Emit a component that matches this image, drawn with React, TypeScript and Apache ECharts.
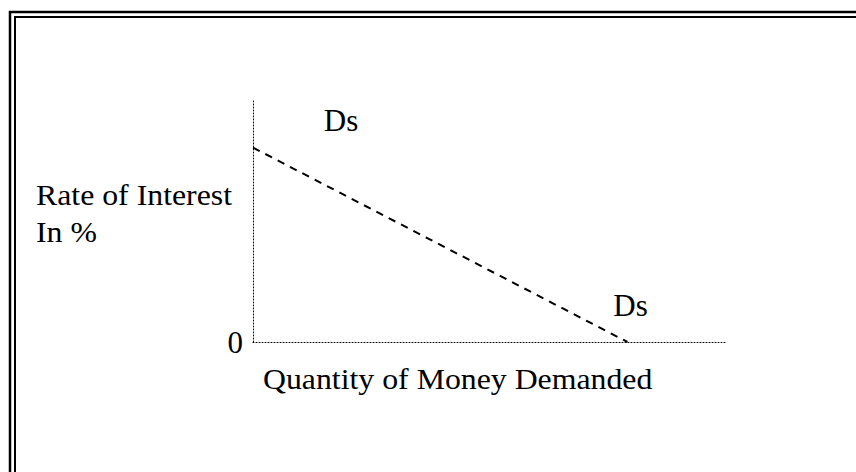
import React, { useEffect, useRef } from "react";
import * as echarts from "echarts";

// Data
const demandQuantity = [0, 79];
const demandRate = [80, 0];
const curveLabels = ["Ds", "Ds"];
const yTickLabels = ["0"];
const yAxisTitle = ["Rate of Interest", "In %"];
const xAxisTitle = "Quantity of Money Demanded";

const FONT = '"Liberation Serif", "Times New Roman", serif';
const FS = 30;
const SX = 1.06;

export default function App() {
  const ref = useRef<HTMLDivElement>(null);
  useEffect(() => {
    if (!ref.current) return;
    const chart = echarts.init(ref.current, undefined, { renderer: "svg" });
    const labelOffsets = [
      [88, -27],
      [3, -37],
    ];
    const textStyle = (t: string) => ({
      text: t,
      font: `${FS}px ${FONT}`,
      fill: "#000",
      textAlign: "left",
      textVerticalAlign: "middle",
    });
    const option = {
      animation: false,
      backgroundColor: "#ffffff",
      grid: { left: 253, top: 99, width: 474, height: 243, containLabel: false },
      xAxis: {
        type: "value",
        min: 0,
        max: 100,
        axisLine: { show: true, lineStyle: { color: "#000", width: 1, type: [1, 2] } },
        axisTick: { show: false },
        axisLabel: { show: false },
        splitLine: { show: false },
      },
      yAxis: {
        type: "value",
        min: 0,
        max: 100,
        interval: 100,
        axisLine: { show: true, lineStyle: { color: "#000", width: 1, type: [1, 2] } },
        axisTick: { show: false },
        splitLine: { show: false },
        axisLabel: {
          show: true,
          margin: 10,
          color: "#000",
          fontFamily: FONT,
          fontSize: 31,
          showMaxLabel: false,
          formatter: (v: number) => (v === 0 ? yTickLabels[0] : ""),
        },
      },
      graphic: [
        {
          type: "rect",
          shape: { x: 10, y: 12, width: 900, height: 500 },
          style: { fill: "none", stroke: "#000", lineWidth: 2.5 },
          silent: true,
        },
        {
          type: "rect",
          shape: { x: 15, y: 17, width: 900, height: 500 },
          style: { fill: "none", stroke: "#000", lineWidth: 2 },
          silent: true,
        },
        { type: "text", x: 36, y: 195, scaleX: SX, style: textStyle(yAxisTitle[0]) },
        { type: "text", x: 36, y: 232, scaleX: SX, style: textStyle(yAxisTitle[1]) },
        { type: "text", x: 263, y: 379, scaleX: SX, style: textStyle(xAxisTitle) },
      ],
      series: [
        {
          type: "line",
          symbol: "circle",
          symbolSize: 1,
          itemStyle: { color: "rgba(0,0,0,0)" },
          lineStyle: { color: "#000", width: 2, type: [7.5, 6.4] },
          data: demandQuantity.map((q, i) => ({
            value: [q, demandRate[i]],
            label: {
              show: true,
              formatter: curveLabels[i],
              position: "inside",
              offset: labelOffsets[i],
              color: "#000",
              fontFamily: FONT,
              fontSize: 31,
              align: "center",
              verticalAlign: "middle",
            },
          })),
        },
      ],
    };
    chart.setOption(option as any);
    return () => chart.dispose();
  }, []);
  return (
    <div
      ref={ref}
      style={{ position: "fixed", left: 0, top: 0, width: 856, height: 472, background: "#fff" }}
    />
  );
}
